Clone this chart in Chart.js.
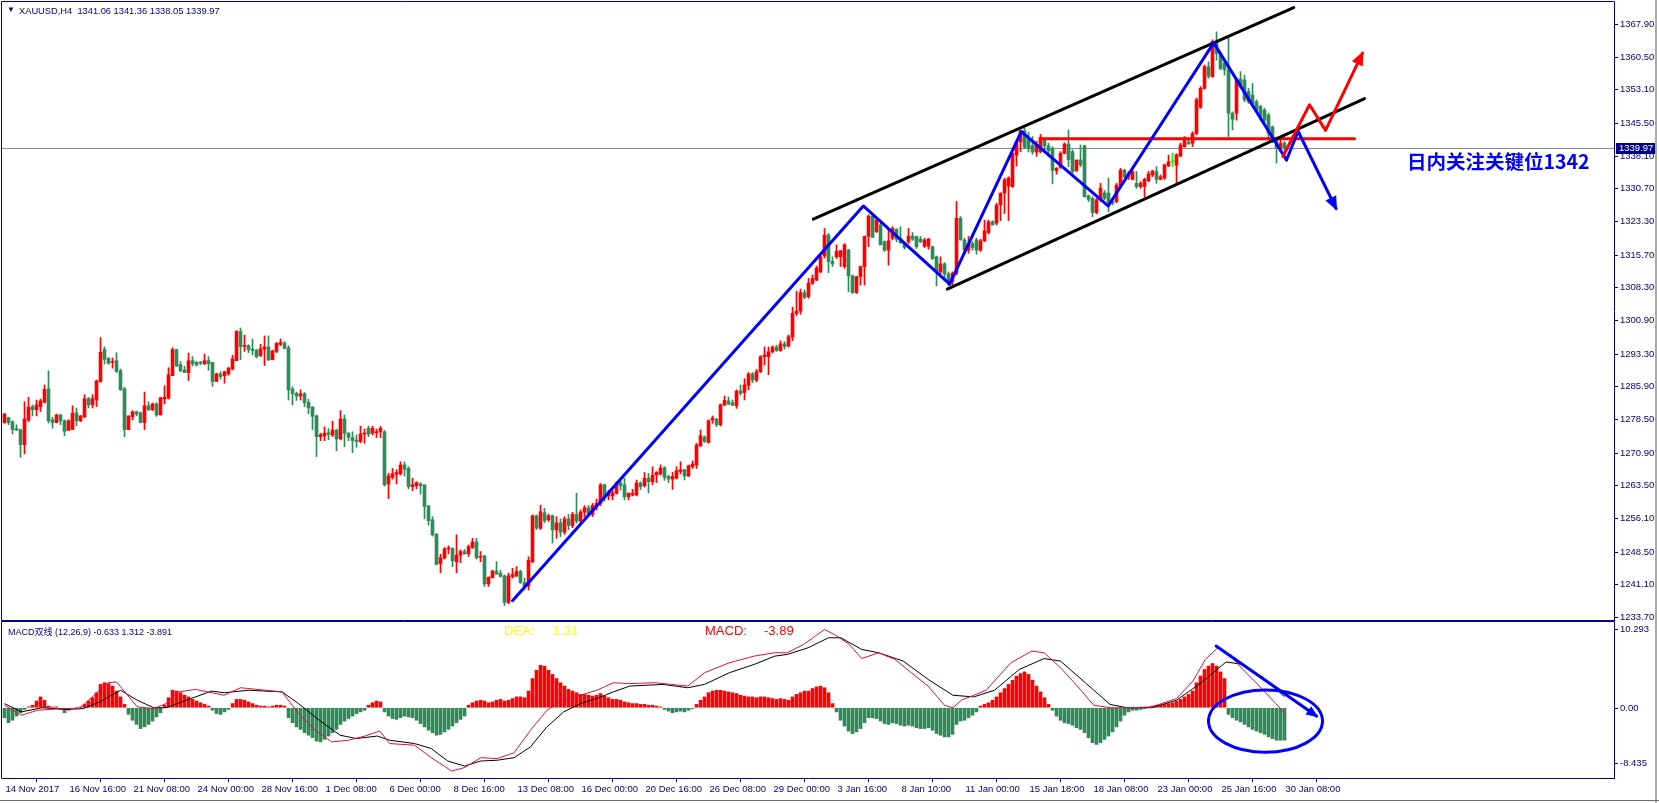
<!DOCTYPE html>
<html><head><meta charset="utf-8">
<script src="https://cdn.jsdelivr.net/npm/chart.js@4.4.0/dist/chart.umd.min.js"></script>
<style>
html,body{margin:0;padding:0;background:#fff;}
#wrap{position:relative;width:1659px;height:803px;overflow:hidden;background:#fff;}
canvas{position:absolute;left:0;}
#c1{top:0;} #c2{top:621px;}
.t{position:absolute;white-space:pre;font-family:"Liberation Sans","Noto Sans CJK SC",Arial,sans-serif;}
#edgeR{position:absolute;left:1655px;top:0;width:2px;height:803px;background:#a9a9a9;}
#edgeB{position:absolute;left:0;top:800px;width:1659px;height:1px;background:#707070;}
</style></head><body>
<div id="wrap">
<canvas id="c1" width="1659" height="621"></canvas>
<canvas id="c2" width="1659" height="182"></canvas>
<div id="edgeR"></div><div id="edgeB"></div>
<div class="t" style="left:7px;top:5px;font-size:8px;line-height:10px;color:#000080">▼</div>
<div class="t" id="hdr" style="left:19px;top:5px;font-size:9.3px;line-height:12px;color:#000080"></div>
<div class="t" id="note" style="left:1407px;top:150px;font-size:19.5px;line-height:22px;color:#0000FF;font-weight:bold;font-family:'Noto Sans CJK SC','Liberation Sans',sans-serif"></div>
<div class="t" id="mhdr" style="left:8px;top:626px;font-size:9px;line-height:12px;color:#000080"></div>
<div class="t" style="left:504px;top:623px;font-size:13px;line-height:16px;color:#FFFF00">DEA:</div>
<div class="t" id="deav" style="left:553px;top:623px;font-size:13px;line-height:16px;color:#FFFF00"></div>
<div class="t" style="left:705px;top:623px;font-size:13px;line-height:16px;color:#FF0000">MACD:</div>
<div class="t" id="macdv" style="left:764px;top:623px;font-size:13px;line-height:16px;color:#FF0000"></div>
</div>
<script>
// ---------------- DATA ----------------
const symbolTitle = "XAUUSD,H4";
const opens = [
1277.8,1278.9,1278.0,1276.4,1276.2,1272.8,1278.4,1281.4,1280.7,1281.4,
1282.4,1285.4,1278.4,1277.8,1279.5,1278.2,1276.0,1276.2,1280.0,1278.2,
1279.0,1283.2,1281.8,1282.9,1287.1,1294.3,1292.3,1291.4,1291.8,1289.5,
1285.4,1276.2,1279.1,1280.2,1280.0,1277.8,1281.6,1280.7,1282.0,1279.5,
1283.1,1283.3,1288.4,1294.3,1290.9,1289.7,1289.1,1291.8,1291.4,1291.5,
1291.1,1291.8,1291.4,1287.1,1288.8,1288.4,1288.8,1289.9,1291.8,1298.4,
1295.0,1295.2,1294.4,1294.1,1293.0,1294.4,1294.9,1292.0,1293.9,1295.5,
1295.8,1294.7,1285.4,1284.4,1283.8,1284.3,1282.4,1281.3,1279.3,1274.6,
1274.8,1275.5,1275.0,1276.1,1274.1,1278.6,1275.4,1274.4,1273.8,1273.5,
1275.2,1276.5,1275.4,1275.5,1275.7,1275.7,1263.9,1265.4,1266.1,1266.2,
1268.2,1267.4,1263.3,1263.5,1263.9,1263.7,1258.9,1255.8,1252.5,1245.9,
1247.1,1249.2,1249.3,1246.3,1247.8,1248.6,1248.1,1249.5,1250.8,1247.3,
1247.6,1241.3,1242.7,1244.2,1243.7,1243.1,1237.1,1242.9,1243.1,1244.1,
1241.6,1240.8,1246.3,1256.7,1253.9,1257.4,1255.8,1256.7,1253.5,1255.1,
1253.0,1256.0,1254.5,1257.0,1255.5,1257.5,1258.5,1257.0,1259.0,1259.5,
1263.7,1261.2,1261.2,1261.8,1264.2,1263.7,1261.0,1261.4,1261.4,1264.1,
1263.5,1265.2,1264.4,1265.9,1266.2,1267.6,1265.6,1265.0,1265.2,1266.7,
1267.1,1265.7,1267.8,1268.2,1272.5,1274.5,1273.3,1278.4,1278.5,1277.3,
1281.8,1282.7,1282.3,1281.6,1285.0,1284.6,1286.2,1288.8,1287.4,1289.3,
1292.7,1292.7,1293.8,1294.9,1294.1,1295.6,1295.1,1297.1,1302.5,1303.0,
1307.2,1306.3,1309.3,1310.0,1311.9,1315.5,1320.2,1314.2,1315.3,1315.3,
1313.1,1316.8,1311.0,1307.2,1310.8,1313.1,1319.9,1324.5,1321.0,1322.5,
1318.7,1316.8,1319.5,1321.5,1319.5,1318.5,1318.7,1320.0,1319.9,1319.3,
1317.7,1317.7,1317.6,1315.3,1311.9,1313.7,1311.4,1309.7,1311.6,1324.0,
1319.1,1316.8,1318.3,1319.1,1316.8,1318.9,1320.8,1323.2,1322.9,1327.0,
1329.7,1331.3,1331.2,1338.3,1341.3,1343.8,1342.0,1340.5,1339.0,1339.1,
1341.7,1340.4,1339.8,1334.8,1335.5,1338.7,1340.8,1339.1,1334.8,1337.2,
1340.4,1329.1,1328.5,1325.3,1328.2,1329.8,1329.7,1327.8,1327.8,1331.5,
1334.9,1333.4,1332.8,1331.9,1331.2,1331.2,1332.5,1333.8,1334.6,1332.8,
1333.1,1335.9,1336.8,1336.0,1338.1,1340.2,1341.3,1341.0,1343.2,1349.1,
1353.4,1358.3,1356.1,1364.0,1361.3,1359.1,1357.6,1347.8,1347.8,1355.5,
1355.3,1352.7,1351.9,1350.4,1349.3,1348.5,1347.4,1344.7,1342.1,1340.0,
1341.06];
const highs = [
1279.9,1279.0,1278.2,1277.3,1276.3,1282.5,1283.5,1281.8,1282.9,1283.1,
1286.3,1289.5,1279.0,1279.7,1279.7,1278.4,1278.4,1281.6,1281.1,1279.4,
1284.1,1283.5,1284.1,1287.4,1297.0,1294.9,1292.5,1292.4,1293.6,1289.9,
1285.8,1279.3,1280.5,1280.4,1280.2,1284.7,1282.5,1282.2,1282.3,1283.5,
1286.1,1290.2,1294.7,1294.4,1291.6,1290.5,1293.5,1292.7,1291.6,1291.6,
1293.3,1292.7,1291.4,1289.0,1289.3,1289.4,1290.3,1293.0,1298.6,1299.2,
1297.6,1295.4,1296.7,1294.4,1295.5,1297.4,1297.4,1294.2,1295.9,1296.7,
1296.1,1295.2,1285.9,1284.7,1285.2,1284.6,1283.1,1281.4,1279.5,1275.4,
1276.8,1276.4,1278.1,1276.3,1280.5,1279.5,1275.5,1275.7,1275.0,1277.0,
1276.3,1277.0,1277.0,1276.3,1276.9,1276.0,1266.3,1267.4,1267.1,1268.9,
1268.9,1267.8,1265.2,1264.4,1264.2,1263.7,1259.1,1256.5,1252.7,1248.0,
1249.5,1249.9,1249.5,1252.4,1249.0,1249.1,1250.1,1251.6,1251.6,1248.6,
1247.8,1242.9,1244.4,1246.3,1244.4,1243.3,1243.7,1244.8,1245.2,1244.4,
1242.6,1247.4,1256.9,1256.9,1259.1,1258.4,1257.1,1256.9,1256.5,1256.0,
1256.5,1257.0,1257.5,1261.8,1258.0,1259.0,1259.0,1259.5,1260.5,1264.0,
1263.9,1262.5,1262.4,1264.4,1264.8,1265.2,1261.9,1262.7,1264.8,1264.4,
1266.5,1266.3,1267.8,1266.7,1268.2,1267.8,1265.9,1266.5,1267.8,1268.9,
1267.2,1268.2,1269.1,1273.1,1276.1,1274.8,1278.4,1279.3,1278.8,1282.0,
1283.8,1283.6,1282.9,1285.2,1286.3,1287.7,1289.1,1289.1,1289.8,1292.9,
1294.9,1294.9,1295.2,1295.3,1296.3,1296.1,1297.6,1303.9,1307.5,1308.0,
1307.8,1310.4,1311.2,1313.2,1315.7,1321.7,1320.6,1315.3,1318.0,1316.7,
1318.3,1317.0,1311.2,1310.9,1313.2,1320.0,1324.8,1325.0,1324.0,1322.9,
1318.9,1321.4,1322.1,1321.7,1322.1,1318.7,1321.7,1320.8,1320.0,1319.9,
1319.5,1319.5,1317.7,1315.5,1315.3,1314.0,1311.9,1311.9,1327.8,1324.4,
1319.5,1319.9,1318.7,1319.5,1319.3,1323.6,1323.6,1323.5,1327.4,1329.8,
1333.1,1333.4,1338.9,1341.7,1344.0,1344.4,1343.5,1342.5,1341.5,1343.0,
1342.1,1341.0,1340.2,1335.5,1339.1,1341.1,1344.0,1339.5,1337.2,1340.6,
1340.6,1329.3,1328.9,1328.5,1331.9,1330.3,1333.1,1328.2,1331.9,1335.3,
1335.1,1334.6,1334.9,1334.6,1332.3,1333.1,1334.6,1334.9,1335.7,1333.8,
1336.3,1338.3,1338.7,1338.6,1341.0,1342.5,1341.7,1343.6,1351.2,1353.8,
1358.7,1359.4,1364.4,1366.2,1361.7,1359.8,1365.1,1348.1,1355.8,1357.2,
1356.4,1353.4,1354.5,1350.8,1349.6,1348.9,1347.8,1344.9,1342.4,1342.5,
1341.36];
const lows = [
1277.6,1277.3,1275.2,1276.0,1269.9,1270.7,1278.0,1279.3,1279.3,1280.3,
1282.2,1277.7,1276.5,1277.7,1277.3,1274.8,1276.0,1276.2,1277.1,1278.0,
1279.0,1281.1,1281.1,1281.4,1286.9,1291.0,1291.0,1290.1,1289.1,1285.1,
1274.6,1276.2,1278.4,1279.3,1277.7,1276.2,1280.5,1280.5,1279.2,1279.5,
1282.0,1283.1,1288.4,1290.5,1289.3,1289.1,1287.3,1290.6,1290.6,1290.9,
1290.9,1289.6,1286.0,1287.1,1287.6,1286.7,1288.5,1289.7,1291.8,1292.0,
1293.9,1293.6,1293.1,1292.4,1292.7,1290.7,1291.8,1292.0,1293.6,1295.2,
1294.4,1282.9,1281.8,1282.8,1282.9,1281.4,1279.8,1276.2,1270.1,1273.7,
1273.7,1273.9,1274.6,1271.4,1273.9,1272.3,1273.7,1271.0,1272.2,1273.2,
1273.1,1274.6,1275.0,1274.4,1274.4,1263.4,1260.6,1265.0,1263.9,1265.9,
1265.7,1262.8,1262.4,1262.8,1261.6,1256.0,1254.6,1252.1,1245.6,1243.8,
1246.9,1248.1,1245.2,1243.8,1246.1,1248.0,1247.5,1249.3,1246.9,1246.3,
1240.7,1240.7,1242.6,1243.5,1242.8,1236.4,1236.8,1242.6,1242.9,1241.4,
1239.9,1239.9,1246.1,1253.6,1253.6,1255.1,1255.4,1250.5,1251.6,1252.0,
1252.5,1253.5,1254.0,1255.0,1255.0,1256.5,1256.5,1256.5,1258.0,1259.0,
1260.0,1260.3,1260.3,1261.6,1262.5,1260.3,1260.3,1261.2,1261.2,1262.6,
1263.2,1261.9,1263.7,1264.2,1265.9,1264.7,1264.2,1262.7,1265.0,1266.2,
1264.8,1265.6,1267.4,1267.4,1272.4,1273.3,1273.1,1277.6,1276.9,1277.0,
1281.6,1281.8,1281.6,1281.0,1284.0,1282.9,1285.2,1286.8,1287.0,1289.1,
1290.8,1288.6,1293.5,1293.9,1293.9,1294.4,1294.9,1296.3,1302.0,1302.3,
1305.8,1305.9,1309.0,1309.9,1311.7,1315.0,1311.7,1313.1,1314.9,1313.1,
1312.7,1307.4,1307.0,1307.0,1308.9,1308.9,1317.6,1319.7,1320.8,1318.0,
1316.5,1313.4,1319.1,1318.7,1318.3,1317.0,1318.3,1319.0,1317.2,1318.5,
1317.4,1317.0,1314.7,1308.7,1311.4,1310.0,1308.7,1308.9,1311.2,1319.1,
1316.1,1316.1,1316.8,1315.9,1316.5,1318.7,1320.5,1322.5,1322.5,1323.5,
1325.1,1323.5,1331.0,1335.8,1339.1,1339.8,1339.0,1338.5,1338.0,1338.8,
1339.3,1338.0,1331.8,1334.0,1335.3,1338.6,1335.7,1334.2,1334.6,1335.7,
1328.8,1327.8,1324.4,1325.0,1327.8,1328.2,1325.5,1327.0,1327.5,1331.2,
1333.1,1332.8,1332.7,1330.8,1330.8,1328.9,1332.3,1333.4,1331.9,1332.7,
1332.8,1335.7,1335.7,1331.9,1337.9,1340.1,1340.8,1340.2,1342.9,1348.9,
1353.2,1355.7,1355.9,1359.8,1357.6,1356.4,1342.5,1344.0,1346.2,1353.4,
1350.4,1350.0,1349.6,1347.9,1346.2,1345.5,1342.1,1341.1,1336.5,1339.0,
1338.05];
const closes = [
1279.7,1277.8,1276.2,1276.1,1272.8,1278.6,1281.3,1280.7,1281.8,1282.7,
1285.3,1278.2,1277.8,1279.5,1278.2,1275.8,1278.2,1279.9,1278.2,1279.3,
1283.2,1281.8,1283.2,1287.2,1293.7,1292.1,1291.2,1291.6,1289.4,1285.2,
1276.2,1279.3,1280.2,1279.7,1277.8,1281.6,1280.7,1282.0,1279.5,1283.4,
1283.5,1288.6,1294.3,1290.6,1289.5,1289.1,1291.8,1291.1,1290.8,1291.2,
1291.8,1291.1,1287.1,1288.8,1288.2,1289.3,1290.1,1292.2,1298.4,1295.0,
1295.2,1294.3,1294.1,1292.7,1294.5,1294.9,1292.0,1294.0,1295.7,1295.9,
1294.6,1285.2,1284.3,1283.8,1284.3,1282.3,1281.1,1279.2,1274.6,1275.0,
1275.4,1275.1,1276.1,1274.1,1278.6,1275.4,1274.5,1273.7,1273.5,1275.2,
1275.4,1275.2,1276.5,1275.7,1276.5,1263.7,1265.7,1266.2,1266.5,1268.2,
1267.2,1263.3,1263.7,1264.2,1263.5,1258.8,1255.6,1252.4,1245.7,1247.2,
1249.2,1249.3,1246.5,1247.8,1248.6,1248.1,1249.7,1250.8,1247.2,1247.5,
1241.3,1242.8,1244.2,1243.5,1243.0,1237.1,1243.1,1243.4,1244.1,1241.6,
1240.8,1246.6,1256.7,1253.9,1257.6,1255.6,1256.7,1253.5,1255.1,1253.0,
1256.0,1254.5,1257.0,1255.5,1257.5,1258.5,1257.0,1259.0,1259.5,1263.7,
1260.7,1261.8,1261.9,1264.1,1263.5,1261.0,1261.8,1261.8,1264.1,1263.3,
1265.2,1264.4,1265.9,1266.5,1267.5,1265.4,1265.0,1265.6,1266.9,1267.1,
1265.7,1268.0,1268.4,1272.7,1274.8,1273.5,1278.2,1278.8,1277.3,1281.8,
1282.8,1282.0,1281.7,1284.9,1284.4,1286.3,1288.8,1287.4,1289.3,1292.7,
1293.1,1293.8,1294.8,1294.1,1295.6,1295.0,1297.2,1302.5,1303.0,1307.2,
1306.1,1309.3,1310.4,1312.7,1315.3,1320.2,1314.2,1313.7,1316.5,1316.7,
1318.0,1311.0,1307.2,1310.8,1313.1,1319.9,1324.5,1319.7,1323.6,1318.0,
1316.8,1318.9,1321.7,1319.3,1318.5,1317.4,1320.0,1319.3,1317.6,1318.7,
1319.1,1319.3,1314.9,1311.9,1313.7,1311.4,1309.7,1311.6,1324.0,1319.1,
1316.8,1318.3,1317.4,1316.8,1318.9,1321.2,1323.2,1322.5,1327.0,1329.7,
1332.7,1333.1,1338.7,1341.3,1343.8,1340.1,1339.8,1339.0,1340.5,1342.3,
1340.4,1339.3,1334.9,1335.3,1338.7,1340.8,1337.3,1334.6,1337.2,1336.1,
1328.9,1328.3,1325.3,1328.2,1330.8,1328.5,1327.6,1327.4,1331.5,1334.9,
1333.4,1334.2,1334.6,1331.2,1331.9,1332.8,1334.0,1334.7,1332.8,1333.4,
1336.1,1336.8,1336.8,1338.4,1340.6,1341.9,1340.8,1343.2,1350.8,1353.4,
1358.3,1356.1,1364.0,1361.3,1357.9,1357.6,1347.8,1346.4,1355.5,1353.8,
1350.8,1350.4,1350.0,1348.5,1347.0,1346.2,1343.2,1342.1,1340.0,1341.0,
1339.97];
const macdHist = [
-1.2,-1.8,-1.5,-1.0,-0.6,-0.2,0.1,0.3,0.8,1.3,
0.9,0.2,0.1,0.1,-0.2,-0.6,-0.3,-0.1,0.05,0.1,
0.4,0.8,1.2,1.8,2.8,3.0,2.9,2.6,2.0,1.3,
0.4,-0.8,-1.5,-2.0,-2.5,-2.3,-2.0,-1.6,-1.1,-0.6,
0.3,1.2,2.1,2.0,1.8,1.5,1.3,1.0,0.8,0.6,
0.4,0.2,-0.3,-0.7,-0.8,-0.5,-0.2,0.5,1.0,1.0,
0.9,0.7,0.5,0.3,0.2,0.2,0.1,0.2,0.3,0.3,
0.2,-1.2,-1.8,-2.3,-2.6,-3.0,-3.3,-3.6,-4.0,-4.1,
-3.8,-3.4,-3.0,-2.6,-2.0,-1.6,-1.3,-1.0,-0.7,-0.5,
-0.3,0.3,0.6,0.8,0.7,-0.5,-1.0,-1.3,-1.4,-1.2,
-1.0,-1.1,-1.2,-1.5,-1.9,-2.3,-2.7,-3.0,-3.3,-3.2,
-2.9,-2.6,-2.2,-1.8,-1.4,-1.0,0.3,0.6,0.8,0.9,
0.8,0.6,0.7,0.9,1.0,0.8,0.9,1.1,1.3,1.3,
1.2,2.0,3.5,4.5,5.1,5.0,4.5,4.0,3.5,3.0,
2.6,2.2,2.0,1.8,1.6,1.6,1.5,1.4,1.5,1.7,
1.4,1.2,1.0,1.0,0.9,0.7,0.6,0.5,0.5,0.4,
0.4,0.3,0.3,0.2,0.1,-0.2,-0.4,-0.6,-0.5,-0.4,
-0.5,-0.3,-0.1,0.4,0.9,1.3,1.8,2.0,2.1,2.1,
2.0,1.9,1.8,1.7,1.5,1.4,1.3,1.3,1.2,1.3,
1.3,1.2,1.1,1.0,1.1,1.0,0.9,1.3,1.6,1.8,
2.0,2.0,2.3,2.5,2.6,2.4,1.8,0.5,-0.5,-1.5,
-2.2,-2.8,-3.1,-2.9,-2.5,-1.8,-1.2,-1.2,-1.3,-1.6,
-1.9,-2.0,-1.8,-1.9,-2.1,-2.2,-2.1,-2.2,-2.4,-2.5,
-2.5,-2.4,-2.7,-3.1,-3.3,-3.5,-3.5,-3.2,-2.0,-1.6,
-1.5,-1.2,-0.9,-0.5,0.2,0.4,0.6,0.9,1.3,1.8,
2.3,2.8,3.3,3.8,4.1,4.3,4.0,3.3,2.6,1.9,
1.2,0.4,-0.3,-1.0,-1.5,-1.8,-1.9,-2.1,-2.4,-2.6,
-3.0,-3.6,-4.2,-4.4,-4.2,-3.8,-3.4,-2.9,-2.3,-1.6,
-0.9,-0.5,-0.3,-0.3,-0.2,-0.1,0.05,0.2,0.3,0.3,
0.4,0.5,0.6,0.8,1.0,1.3,1.6,2.0,3.0,3.8,
4.6,5.0,5.3,5.0,4.3,3.5,-0.8,-1.2,-1.5,-1.7,
-2.0,-2.3,-2.6,-2.8,-3.0,-3.2,-3.5,-3.7,-3.9,-3.9,
-3.891];
// DIF (red) and DEA (black) lines read at these bar positions
const difBars = [0,4.2,8.3,14.5,18.7,25.9,28,30.1,33.2,37.3,40.4,43.5,47.7,50.8,54.9,59,63.2,69.4,73.5,77.7,81.8,86,90.1,93.8,96.3,102.5,106.7,111.8,114.9,119.1,123.2,127.4,131.5,135.6,139.8,143.9,148.1,152.2,156.3,162.6,166.7,170.8,175,181.2,187.4,192.6,195.7,199.8,205,208.1,211.2,214.3,218.5,222.6,226.7,230.9,235,237.1,239.2,245.4,251.6,256.8,259.9,264,268.2,272.3,276.4,280.6,286.8,293,297.1,300.2,303.3,306.5,309.6,313.7,317.8,320];
const difValues = [0.3,-0.9,-0.3,-0.1,-0.1,3.0,3.1,1.9,0.1,-0.1,0.5,1.9,2.2,1.9,1.5,2.4,2.2,1.9,-0.7,-2.7,-4.1,-3.9,-3.4,-2.8,-4.3,-4.5,-6.0,-7.6,-7.2,-6.0,-6.1,-5.4,-2.7,-0.3,0.9,1.5,2.1,3.0,2.9,3.0,2.8,2.6,4.2,5.4,6.2,6.6,6.6,7.6,9.4,8.6,7.6,5.9,6.6,5.8,4.2,2.6,0.3,0.0,0.9,2.1,5.4,6.8,6.6,4.8,2.6,0.3,0.0,0.0,0.1,1.1,3.2,5.8,7.2,6.2,4.6,2.6,0.5,-0.633];
const deaBars = [0,4.2,9.4,15.6,19.7,23.8,29,33.2,37.3,40.4,46.6,51.8,54.9,61.1,69.4,73.5,78.7,83.9,88,93.2,96.3,102.5,106.7,110.8,115,119,123.2,127.4,131.5,135.6,139.8,144,148,152.2,156.3,164.6,170.8,175,181.2,187.4,192.6,195.7,200.9,206,209.1,214.3,218.5,224.7,230.9,237.1,242.3,247.5,253.7,259.9,264,270.2,276.4,280.6,286.8,293,299.2,305.4,309.6,314.8,320];
const deaValues = [0.5,-0.5,0.0,-0.2,-0.1,0.7,2.1,0.9,0.0,0.0,1.1,2.0,1.8,2.1,1.9,0.5,-1.5,-3.3,-3.7,-3.4,-3.9,-4.3,-4.9,-6.4,-7.0,-6.4,-6.3,-6.0,-4.7,-2.3,-0.5,0.5,1.1,1.9,2.6,2.8,2.4,2.8,4.2,5.2,6.2,6.4,7.2,8.4,8.4,7.0,6.6,5.6,3.4,1.5,1.3,2.1,4.6,5.9,5.6,3.0,0.4,0.0,0.0,0.9,3.0,5.5,5.2,3.6,1.312];
const xTickLabels = ["14 Nov 2017","16 Nov 16:00","21 Nov 08:00","24 Nov 00:00","28 Nov 16:00","1 Dec 08:00","6 Dec 00:00","8 Dec 16:00","13 Dec 08:00","16 Dec 00:00","20 Dec 16:00","26 Dec 08:00","29 Dec 00:00","3 Jan 16:00","8 Jan 10:00","11 Jan 00:00","15 Jan 18:00","18 Jan 08:00","23 Jan 00:00","25 Jan 16:00","30 Jan 08:00"];
const xTickEvery = 16;
const priceTicks = [1367.90,1360.50,1353.10,1345.50,1338.10,1330.70,1323.30,1315.70,1308.30,1300.90,1293.30,1285.90,1278.50,1270.90,1263.50,1256.10,1248.50,1241.10,1233.70];
const macdTicks = [10.293, 0, -8.435];
const macdParams = "MACD双线 (12,26,9)";
const lastDif = -0.633, lastDea = 1.312, lastMacd = -3.891;
// hand-drawn annotations (bar index, price)
const zigzagBars = [127,214.7,236.3,254.2,275.9,302.3,320.5];
const zigzagPrices = [1237.5,1326.8,1309.1,1343.6,1326.8,1363.7,1337.2];
const blueArrowBars = [320.5,323.4,332.9];
const blueArrowPrices = [1337.2,1343.7,1326.2];
const redArrowBars = [319.6,326.25,330.25,339.5];
const redArrowPrices = [1338.0,1349.7,1343.9,1361.4];
const channelTopBars = [202.2,322.3], channelTopPrices = [1323.8,1371.7];
const channelBotBars = [235.7,340], channelBotPrices = [1308.0,1351.1];
const keyLevelBars = [259.5,337.5], keyLevel = 1342;
const noteText = "日内关注关键位1342";
const macdArrowBars = [302.9,328], macdArrowValues = [7.4,-1.0];
const macdEllipse = {bar:315.25, value:-1.6, barRadius:14.25, valueRadius:3.74};

// ---------------- RENDER ----------------
const NAVY = '#000080', UP = '#FF0000', DOWN = '#2E8B57', DOJI = '#00FF00';
const FONT = '"Liberation Sans","Noto Sans CJK SC",Arial,sans-serif';
Chart.defaults.font.family = FONT;
const last = closes.length - 1;
document.getElementById('hdr').textContent = symbolTitle + '  ' + [opens[last],highs[last],lows[last],closes[last]].map(v=>v.toFixed(2)).join(' ');
document.getElementById('note').textContent = noteText;
document.getElementById('mhdr').textContent = macdParams + ' ' + lastDif.toFixed(3) + ' ' + lastDea.toFixed(3) + ' ' + lastMacd.toFixed(3);
document.getElementById('deav').textContent = lastDea.toFixed(2);
document.getElementById('macdv').textContent = lastMacd.toFixed(2);

const xMin = -0.625, xMax = 402.375;
const candleColors = opens.map((o,i)=> closes[i]>o ? UP : (closes[i]<o ? DOWN : DOJI));
const wickData = opens.map((o,i)=>({x:i, y:[lows[i], highs[i]]}));
const bodyData = opens.map((o,i)=>({x:i, y:[o, closes[i]]}));

function noPad(s){ s.paddingTop = 0; s.paddingBottom = 0; s.paddingLeft = 0; s.paddingRight = 0; }
function path(ctx, xs, ys, bars, vals){
  ctx.beginPath();
  bars.forEach((b,k)=>{ const px = xs.getPixelForValue(b), py = ys.getPixelForValue(vals[k]); k?ctx.lineTo(px,py):ctx.moveTo(px,py); });
  ctx.stroke();
}
function arrowHead(ctx, xs, ys, bars, vals, color, len, half){
  const n = bars.length;
  const x1 = xs.getPixelForValue(bars[n-1]), y1 = ys.getPixelForValue(vals[n-1]);
  const x0 = xs.getPixelForValue(bars[n-2]), y0 = ys.getPixelForValue(vals[n-2]);
  const a = Math.atan2(y1-y0, x1-x0);
  ctx.beginPath();
  ctx.moveTo(x1 + Math.cos(a)*2, y1 + Math.sin(a)*2);
  ctx.lineTo(x1 - Math.cos(a)*len + Math.sin(a)*half, y1 - Math.sin(a)*len - Math.cos(a)*half);
  ctx.lineTo(x1 - Math.cos(a)*len - Math.sin(a)*half, y1 - Math.sin(a)*len + Math.cos(a)*half);
  ctx.closePath(); ctx.fillStyle = color; ctx.fill();
}

const mainPlugin = {
  id:'mainDecor',
  beforeDatasetsDraw(chart){
    const {ctx, chartArea:a, scales:{y}} = chart;
    ctx.save();
    const py = Math.round(y.getPixelForValue(closes[last])) + 0.5;
    ctx.strokeStyle = '#7f8a96'; ctx.lineWidth = 1;
    ctx.beginPath(); ctx.moveTo(a.left, py); ctx.lineTo(a.right, py); ctx.stroke();
    ctx.restore();
  },
  afterDatasetsDraw(chart){
    const {ctx, chartArea:a, scales:{x,y}} = chart;
    ctx.save();
    ctx.beginPath(); ctx.rect(a.left, a.top, a.right-a.left, a.bottom-a.top); ctx.clip();
    ctx.lineCap = 'round'; ctx.lineJoin = 'round';
    ctx.strokeStyle = '#FF0000'; ctx.lineWidth = 3;
    path(ctx, x, y, keyLevelBars, [keyLevel, keyLevel]);
    ctx.strokeStyle = '#000000'; ctx.lineWidth = 3;
    path(ctx, x, y, channelTopBars, channelTopPrices);
    path(ctx, x, y, channelBotBars, channelBotPrices);
    ctx.strokeStyle = '#0000FF'; ctx.lineWidth = 3;
    path(ctx, x, y, zigzagBars, zigzagPrices);
    path(ctx, x, y, blueArrowBars, blueArrowPrices);
    arrowHead(ctx, x, y, blueArrowBars, blueArrowPrices, '#0000FF', 12, 6);
    ctx.strokeStyle = '#FF0000'; ctx.lineWidth = 3;
    path(ctx, x, y, redArrowBars, redArrowPrices);
    arrowHead(ctx, x, y, redArrowBars, redArrowPrices, '#FF0000', 12, 6);
    ctx.restore();
    ctx.save();
    ctx.strokeStyle = NAVY; ctx.lineWidth = 1;
    ctx.beginPath();
    ctx.moveTo(a.left-0.5, a.bottom+0.5); ctx.lineTo(a.left-0.5, a.top-0.5); ctx.lineTo(a.right+0.5, a.top-0.5);
    ctx.moveTo(a.left-0.5, a.bottom+0.5); ctx.lineTo(a.right+0.5, a.bottom+0.5);
    ctx.stroke();
    ctx.restore();
  },
  afterDraw(chart){
    const {ctx, chartArea:a, scales:{y}} = chart;
    const py = Math.round(y.getPixelForValue(closes[last]));
    ctx.save();
    ctx.fillStyle = NAVY; ctx.fillRect(a.right+2, py-5, 41, 11);
    ctx.fillStyle = '#FFFFFF'; ctx.font = '9.5px ' + FONT; ctx.textBaseline = 'middle'; ctx.textAlign = 'left';
    ctx.fillText(closes[last].toFixed(2), a.right+5, py+0.5);
    ctx.restore();
  }
};

new Chart(document.getElementById('c1'), {
  type:'bar',
  data:{datasets:[
    {label:'wick', data:wickData, backgroundColor:candleColors, barThickness:1, grouped:false, minBarLength:1, order:2},
    {label:'body', data:bodyData, backgroundColor:candleColors, barThickness:3, grouped:false, minBarLength:1, order:1}
  ]},
  options:{
    responsive:false, animation:false, devicePixelRatio:1,
    layout:{padding:{left:2, top:2, bottom:1, right:0}},
    plugins:{legend:{display:false}, tooltip:{enabled:false}},
    scales:{
      x:{type:'linear', min:xMin, max:xMax, offset:false, display:false},
      y:{type:'linear', position:'right', min:1233.12, max:1372.95,
         afterFit(s){ s.width = 45; noPad(s); },
         afterBuildTicks(s){ s.ticks = priceTicks.map(v=>({value:v})); },
         ticks:{callback:v=>Number(v).toFixed(2), color:NAVY, font:{size:9.5}, padding:2},
         grid:{drawOnChartArea:false, tickLength:4, color:NAVY},
         border:{color:NAVY}}
    }
  },
  plugins:[mainPlugin]
});

const macdPlugin = {
  id:'macdDecor',
  afterDatasetsDraw(chart){
    const {ctx, chartArea:a, scales:{x,y}} = chart;
    ctx.save();
    ctx.beginPath(); ctx.rect(a.left, a.top, a.right-a.left, a.bottom-a.top); ctx.clip();
    ctx.strokeStyle = '#0000FF'; ctx.lineWidth = 3; ctx.lineCap='round';
    path(ctx, x, y, macdArrowBars, macdArrowValues);
    arrowHead(ctx, x, y, macdArrowBars, macdArrowValues, '#0000FF', 10, 5);
    const cx = x.getPixelForValue(macdEllipse.bar), cy = y.getPixelForValue(macdEllipse.value);
    const rx = x.getPixelForValue(macdEllipse.bar + macdEllipse.barRadius) - cx;
    const ry = cy - y.getPixelForValue(macdEllipse.value + macdEllipse.valueRadius);
    ctx.beginPath(); ctx.ellipse(cx, cy, rx, ry, 0, 0, Math.PI*2); ctx.stroke();
    ctx.restore();
    ctx.save();
    ctx.strokeStyle = NAVY; ctx.lineWidth = 1;
    ctx.beginPath();
    ctx.moveTo(a.left-0.5, a.bottom+0.5); ctx.lineTo(a.left-0.5, a.top-0.5); ctx.lineTo(a.right+0.5, a.top-0.5);
    ctx.stroke();
    ctx.fillStyle = NAVY; ctx.font = '9.5px ' + FONT; ctx.textAlign = 'left';
    const ys = [a.top + 7, y.getPixelForValue(macdTicks[1]), a.bottom - 15];
    macdTicks.forEach((v,k)=>{
      const py = Math.round(ys[k]) + 0.5;
      ctx.beginPath(); ctx.moveTo(a.right, py); ctx.lineTo(a.right+4, py); ctx.stroke();
      ctx.textBaseline = 'middle';
      ctx.fillText(k===1 ? v.toFixed(2) : v.toFixed(3), a.right+6, py);
    });
    ctx.restore();
  }
};

new Chart(document.getElementById('c2'), {
  type:'bar',
  data:{datasets:[
    {type:'line', data:difBars.map((b,k)=>({x:b, y:difValues[k]})), borderColor:'#E0103C', borderWidth:1, pointRadius:0, tension:0, order:0},
    {type:'line', data:deaBars.map((b,k)=>({x:b, y:deaValues[k]})), borderColor:'#000000', borderWidth:1, pointRadius:0, tension:0, order:1},
    {type:'bar', data:macdHist.map((v,i)=>({x:i, y:v})), backgroundColor:macdHist.map(v=>v>=0?UP:DOWN), barThickness:3, grouped:false, order:2}
  ]},
  options:{
    responsive:false, animation:false, devicePixelRatio:1,
    layout:{padding:{left:2, top:1, bottom:0, right:0}},
    plugins:{legend:{display:false}, tooltip:{enabled:false}},
    scales:{
      x:{type:'linear', min:xMin, max:xMax, offset:false, position:'bottom',
         afterFit(s){ s.height = 25; noPad(s); },
         afterBuildTicks(s){ s.ticks = xTickLabels.map((t,k)=>({value:k*xTickEvery})); },
         ticks:{callback:(v,i)=>xTickLabels[i], align:'start', maxRotation:0, minRotation:0, autoSkip:false, color:NAVY, font:{size:9.5}, padding:2, labelOffset:1},
         grid:{drawOnChartArea:false, tickLength:4, color:NAVY},
         border:{color:NAVY}},
      y:{type:'linear', position:'right', min:macdTicks[2], max:macdTicks[0],
         afterFit(s){ s.width = 45; noPad(s); },
         ticks:{display:false},
         grid:{drawOnChartArea:false, drawTicks:false},
         border:{color:NAVY}}
    }
  },
  plugins:[macdPlugin]
});
</script>
</body></html>
